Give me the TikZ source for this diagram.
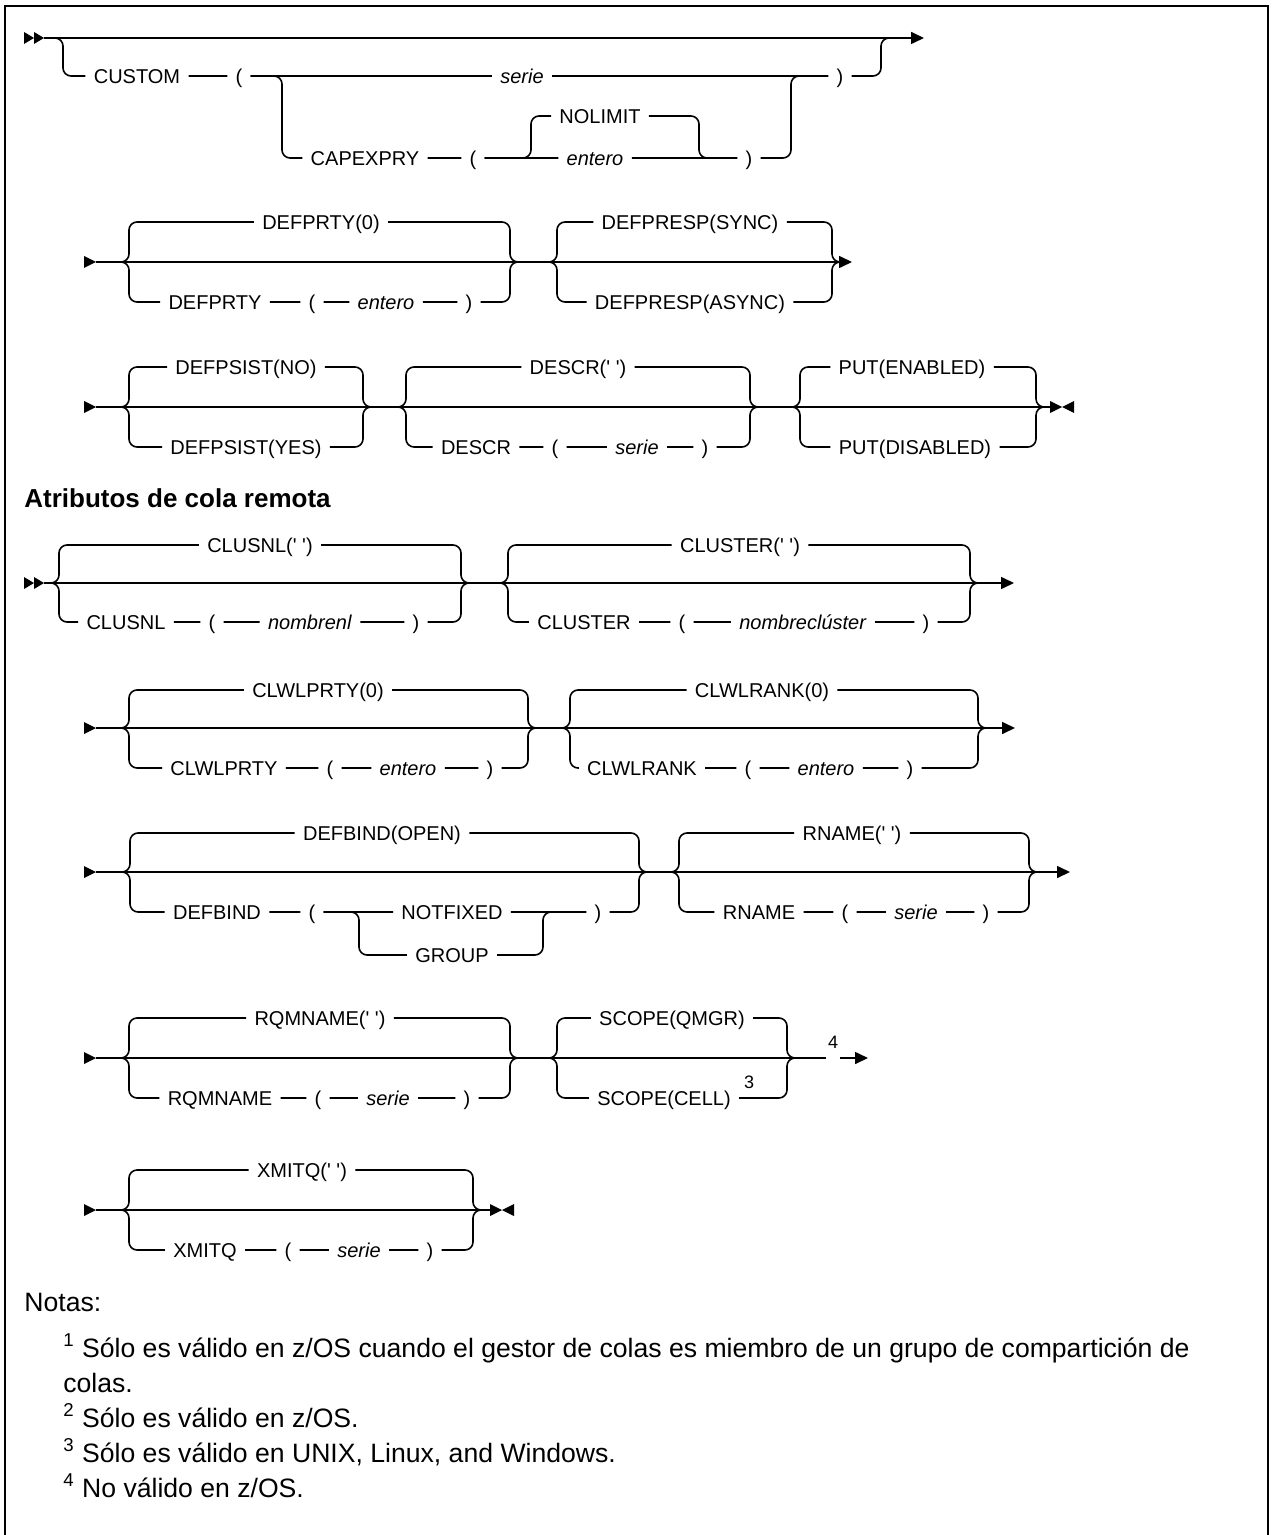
\documentclass[tikz,border=0pt]{standalone}
\usepackage{fontspec}
\setmainfont{Liberation Sans}
\usetikzlibrary{arrows.meta}
\newcommand{\blankq}{(\textquotesingle\ \textquotesingle)}

\begin{document}
\begin{tikzpicture}[x=0.5pt, y=-0.5pt,
    rail/.style={line width=0.8pt, rounded corners=4pt},
    railend/.style={-{Triangle[length=6.5pt, width=6pt]}},
    tok/.style={inner xsep=4pt, inner ysep=0pt, text height=7.2pt, text depth=0pt, font=\fontsize{10}{12}\selectfont},
    sup/.style={inner xsep=1pt, inner ysep=0pt, text height=0pt, text depth=0pt, font=\fontsize{9}{10}\selectfont},
    note/.style={anchor=base west, inner sep=0pt, font=\fontsize{13.3}{16}\selectfont},
    boxline/.style={line width=1.2pt}]

    \useasboundingbox (0,0) rectangle (1273,1535);
    \draw[boxline] (5,1535) -- (5,6) -- (1268,6) -- (1268,1535);

    % Row 1: CUSTOM
    \fill (24,32) -- (34,38) -- (24,44) -- cycle;
    \fill (34,32) -- (44,38) -- (34,44) -- cycle;
    \coordinate (inA) at (44,38);
    \coordinate (outA) at (924,38);
    \draw[rail, railend] (inA) -- (outA);
    \node[tok] (custom) at (137,76) {CUSTOM};
    \node[tok] (lpA) at (239,76) {(};
    \node[tok] (serieA) at (522,76) {\textit{serie}};
    \node[tok] (rpA) at (840,76) {)};
    \node[tok] (capexpry) at (365,158) {CAPEXPRY};
    \node[tok] (lpB) at (473,158) {(};
    \node[tok] (nolimit) at (600,116) {NOLIMIT};
    \node[tok] (enteroA) at (595,158) {\textit{entero}};
    \node[tok] (rpB) at (749,158) {)};
    \draw[rail] (inA) -- (63,38) -- (63,76) -- (custom) -- (lpA) -- (serieA) -- (rpA) -- (881,76) -- (881,38) -- (898,38);
    \draw[rail] (lpA) -- (282,76) -- (282,158) -- (capexpry) -- (lpB) -- (enteroA) -- (rpB) -- (791,158) -- (791,76) -- (808,76);
    \draw[rail] (lpB) -- (531,158) -- (531,116) -- (nolimit) -- (699,116) -- (699,158) -- (716,158);

    % Row 2: DEFPRTY, DEFPRESP
    \fill (84,256) -- (96,262) -- (84,268) -- cycle;
    \coordinate (inB) at (96,262);
    \coordinate (outB) at (852,262);
    \draw[rail, railend] (inB) -- (outB);
    \node[tok] (defprtyZ) at (321,222) {DEFPRTY(0)};
    \node[tok] (defprty) at (215,302) {DEFPRTY};
    \node[tok] (lpC) at (312,302) {(};
    \node[tok] (enteroB) at (386,302) {\textit{entero}};
    \node[tok] (rpC) at (469,302) {)};
    \node[tok] (defprespS) at (690,222) {DEFPRESP(SYNC)};
    \node[tok] (defprespA) at (690,302) {DEFPRESP(ASYNC)};
    \draw[rail] (inB) -- (129,262) -- (129,222) -- (defprtyZ) -- (510,222) -- (510,262) -- (527,262);
    \draw[rail] (inB) -- (129,262) -- (129,302) -- (defprty) -- (lpC) -- (enteroB) -- (rpC) -- (510,302) -- (510,262) -- (527,262);
    \draw[rail] (540,262) -- (557,262) -- (557,222) -- (defprespS) -- (832,222) -- (832,262) -- (845,262);
    \draw[rail] (540,262) -- (557,262) -- (557,302) -- (defprespA) -- (832,302) -- (832,262) -- (845,262);

    % Row 3: DEFPSIST, DESCR, PUT
    \fill (84,401) -- (96,407) -- (84,413) -- cycle;
    \coordinate (inC) at (96,407);
    \coordinate (outC) at (1050,407);
    \draw[rail] (inC) -- (outC);
    \fill (1050,401) -- (1062,407) -- (1050,413) -- cycle;
    \fill (1074,401) -- (1062,407) -- (1074,413) -- cycle;
    \node[tok] (defpsistN) at (246,367) {DEFPSIST(NO)};
    \node[tok] (defpsistY) at (246,447) {DEFPSIST(YES)};
    \node[tok] (descrE) at (578,367) {DESCR\blankq};
    \node[tok] (descr) at (476,447) {DESCR};
    \node[tok] (lpD) at (555,447) {(};
    \node[tok] (serieB) at (637,447) {\textit{serie}};
    \node[tok] (rpD) at (705,447) {)};
    \node[tok] (putE) at (912,367) {PUT(ENABLED)};
    \node[tok] (putD) at (915,447) {PUT(DISABLED)};
    \draw[rail] (inC) -- (129,407) -- (129,367) -- (defpsistN) -- (363,367) -- (363,407) -- (380,407);
    \draw[rail] (inC) -- (129,407) -- (129,447) -- (defpsistY) -- (363,447) -- (363,407) -- (380,407);
    \draw[rail] (389,407) -- (406,407) -- (406,367) -- (descrE) -- (750,367) -- (750,407) -- (767,407);
    \draw[rail] (389,407) -- (406,407) -- (406,447) -- (descr) -- (lpD) -- (serieB) -- (rpD) -- (750,447) -- (750,407) -- (767,407);
    \draw[rail] (783,407) -- (800,407) -- (800,367) -- (putE) -- (1036,367) -- (1036,407) -- (1050,407);
    \draw[rail] (783,407) -- (800,407) -- (800,447) -- (putD) -- (1036,447) -- (1036,407) -- (1050,407);

    % Heading
    \node[anchor=base west, inner sep=0pt, font=\fontsize{13}{16}\selectfont\bfseries] (heading) at (24,507) {Atributos de cola remota};

    % Row 4: CLUSNL, CLUSTER
    \fill (24,577) -- (34,583) -- (24,589) -- cycle;
    \fill (34,577) -- (44,583) -- (34,589) -- cycle;
    \coordinate (inD) at (44,583);
    \coordinate (outD) at (1014,583);
    \draw[rail, railend] (inD) -- (outD);
    \node[tok] (clusnlE) at (260,545) {CLUSNL\blankq};
    \node[tok] (clusnl) at (126,622) {CLUSNL};
    \node[tok] (lpE) at (212,622) {(};
    \node[tok] (nombrenl) at (310,622) {\textit{nombrenl}};
    \node[tok] (rpE) at (416,622) {)};
    \node[tok] (clusterE) at (740,545) {CLUSTER\blankq};
    \node[tok] (cluster) at (584,622) {CLUSTER};
    \node[tok] (lpF) at (682,622) {(};
    \node[tok] (nombrecl) at (803,622) {\textit{nombreclúster}};
    \node[tok] (rpF) at (926,622) {)};
    \draw[rail] (inD) -- (59,583) -- (59,545) -- (clusnlE) -- (461,545) -- (461,583) -- (478,583);
    \draw[rail] (inD) -- (59,583) -- (59,622) -- (clusnl) -- (lpE) -- (nombrenl) -- (rpE) -- (461,622) -- (461,583) -- (478,583);
    \draw[rail] (491,583) -- (508,583) -- (508,545) -- (clusterE) -- (970,545) -- (970,583) -- (987,583);
    \draw[rail] (491,583) -- (508,583) -- (508,622) -- (cluster) -- (lpF) -- (nombrecl) -- (rpF) -- (970,622) -- (970,583) -- (987,583);

    % Row 5: CLWLPRTY, CLWLRANK
    \fill (84,722) -- (96,728) -- (84,734) -- cycle;
    \coordinate (inE) at (96,728);
    \coordinate (outE) at (1015,728);
    \draw[rail, railend] (inE) -- (outE);
    \node[tok] (clwlprtyZ) at (318,690) {CLWLPRTY(0)};
    \node[tok] (clwlprty) at (224,768) {CLWLPRTY};
    \node[tok] (lpG) at (330,768) {(};
    \node[tok] (enteroC) at (408,768) {\textit{entero}};
    \node[tok] (rpG) at (490,768) {)};
    \node[tok] (clwlrankZ) at (762,690) {CLWLRANK(0)};
    \node[tok] (clwlrank) at (642,768) {CLWLRANK};
    \node[tok] (lpH) at (748,768) {(};
    \node[tok] (enteroD) at (826,768) {\textit{entero}};
    \node[tok] (rpH) at (910,768) {)};
    \draw[rail] (inE) -- (129,728) -- (129,690) -- (clwlprtyZ) -- (528,690) -- (528,728) -- (545,728);
    \draw[rail] (inE) -- (129,728) -- (129,768) -- (clwlprty) -- (lpG) -- (enteroC) -- (rpG) -- (528,768) -- (528,728) -- (545,728);
    \draw[rail] (553,728) -- (570,728) -- (570,690) -- (clwlrankZ) -- (978,690) -- (978,728) -- (995,728);
    \draw[rail] (553,728) -- (570,728) -- (570,768) -- (clwlrank) -- (lpH) -- (enteroD) -- (rpH) -- (978,768) -- (978,728) -- (995,728);

    % Row 6: DEFBIND, RNAME
    \fill (84,866) -- (96,872) -- (84,878) -- cycle;
    \coordinate (inF) at (96,872);
    \coordinate (outF) at (1070,872);
    \draw[rail, railend] (inF) -- (outF);
    \node[tok] (defbindO) at (382,833) {DEFBIND(OPEN)};
    \node[tok] (defbind) at (217,912) {DEFBIND};
    \node[tok] (lpI) at (312,912) {(};
    \node[tok] (notfixed) at (452,912) {NOTFIXED};
    \node[tok] (group) at (452,955) {GROUP};
    \node[tok] (rpI) at (598,912) {)};
    \node[tok] (rnameE) at (852,833) {RNAME\blankq};
    \node[tok] (rname) at (759,912) {RNAME};
    \node[tok] (lpJ) at (845,912) {(};
    \node[tok] (serieC) at (916,912) {\textit{serie}};
    \node[tok] (rpJ) at (986,912) {)};
    \draw[rail] (inF) -- (130,872) -- (130,833) -- (defbindO) -- (639,833) -- (639,872) -- (656,872);
    \draw[rail] (inF) -- (130,872) -- (130,912) -- (defbind) -- (lpI) -- (notfixed) -- (rpI) -- (639,912) -- (639,872) -- (656,872);
    \draw[rail] (lpI) -- (359,912) -- (359,955) -- (group) -- (543,955) -- (543,912) -- (560,912);
    \draw[rail] (662,872) -- (679,872) -- (679,833) -- (rnameE) -- (1029,833) -- (1029,872) -- (1046,872);
    \draw[rail] (662,872) -- (679,872) -- (679,912) -- (rname) -- (lpJ) -- (serieC) -- (rpJ) -- (1029,912) -- (1029,872) -- (1046,872);

    % Row 7: RQMNAME, SCOPE
    \fill (84,1052) -- (96,1058) -- (84,1064) -- cycle;
    \coordinate (inG) at (96,1058);
    \coordinate (outG) at (868,1058);
    \node[sup] (n4) at (833,1058) {\raisebox{5pt}{4}};
    \draw[rail] (inG) -- (n4);
    \draw[rail, railend] (n4) -- (outG);
    \node[tok] (rqmnameE) at (320,1018) {RQMNAME\blankq};
    \node[tok] (rqmname) at (220,1098) {RQMNAME};
    \node[tok] (lpK) at (318,1098) {(};
    \node[tok] (serieD) at (388,1098) {\textit{serie}};
    \node[tok] (rpK) at (467,1098) {)};
    \node[tok] (scopeQ) at (672,1018) {SCOPE(QMGR)};
    \node[tok] (scopeC) at (664,1098) {SCOPE(CELL)};
    \node[sup] (n3) at (749,1098) {\raisebox{5pt}{3}};
    \draw[rail] (inG) -- (129,1058) -- (129,1018) -- (rqmnameE) -- (510,1018) -- (510,1058) -- (527,1058);
    \draw[rail] (inG) -- (129,1058) -- (129,1098) -- (rqmname) -- (lpK) -- (serieD) -- (rpK) -- (510,1098) -- (510,1058) -- (527,1058);
    \draw[rail] (540,1058) -- (557,1058) -- (557,1018) -- (scopeQ) -- (787,1018) -- (787,1058) -- (804,1058);
    \draw[rail] (540,1058) -- (557,1058) -- (557,1098) -- (scopeC) -- (787,1098) -- (787,1058) -- (804,1058);

    % Row 8: XMITQ
    \fill (84,1204) -- (96,1210) -- (84,1216) -- cycle;
    \coordinate (inH) at (96,1210);
    \coordinate (outH) at (490,1210);
    \draw[rail] (inH) -- (outH);
    \fill (490,1204) -- (502,1210) -- (490,1216) -- cycle;
    \fill (514,1204) -- (502,1210) -- (514,1216) -- cycle;
    \node[tok] (xmitqE) at (302,1170) {XMITQ\blankq};
    \node[tok] (xmitq) at (205,1250) {XMITQ};
    \node[tok] (lpL) at (288,1250) {(};
    \node[tok] (serieE) at (359,1250) {\textit{serie}};
    \node[tok] (rpL) at (430,1250) {)};
    \draw[rail] (inH) -- (129,1210) -- (129,1170) -- (xmitqE) -- (473,1170) -- (473,1210) -- (490,1210);
    \draw[rail] (inH) -- (129,1210) -- (129,1250) -- (xmitq) -- (lpL) -- (serieE) -- (rpL) -- (473,1250) -- (473,1210) -- (490,1210);

    % Notes
    \node[note] (notas) at (24,1311) {Notas:};
    \node[note] (note1) at (63,1357) {\textsuperscript{1} Sólo es válido en z/OS cuando el gestor de colas es miembro de un grupo de compartición de};
    \node[note] (note1b) at (63,1392) {colas.};
    \node[note] (note2) at (63,1427) {\textsuperscript{2} Sólo es válido en z/OS.};
    \node[note] (note3) at (63,1462) {\textsuperscript{3} Sólo es válido en UNIX, Linux, and Windows.};
    \node[note] (note4) at (63,1497) {\textsuperscript{4} No válido en z/OS.};
\end{tikzpicture}
\end{document}
